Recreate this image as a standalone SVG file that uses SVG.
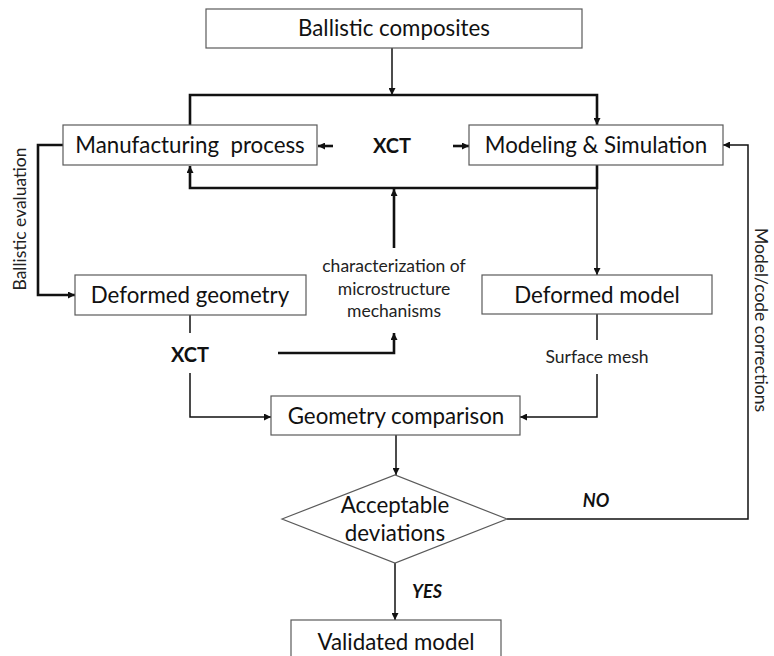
<svg xmlns="http://www.w3.org/2000/svg" width="774" height="656" viewBox="0 0 774 656">
<style>
.box{fill:#fff;stroke:#5a5a5a;stroke-width:1.2}
.t{font-family:Lato,"Open Sans",sans-serif;font-size:22.3px;fill:#111;text-anchor:middle}
.s{font-family:Lato,"Open Sans",sans-serif;font-size:17.5px;fill:#222;text-anchor:middle}
.b{font-family:Lato,"Open Sans",sans-serif;font-size:20px;font-weight:bold;fill:#111;text-anchor:middle}
.bi{font-family:Lato,"Open Sans",sans-serif;font-size:18px;font-weight:bold;font-style:italic;fill:#111;text-anchor:middle}
.thin{fill:none;stroke:#111;stroke-width:1.5}
.thick{fill:none;stroke:#111;stroke-width:2.6}
</style>
<defs>
<marker id="ah" viewBox="0 0 10 10" refX="10" refY="5" markerWidth="9" markerHeight="7" markerUnits="userSpaceOnUse" orient="auto">
<path d="M0,0 L10,5 L0,10 z" fill="#111"/>
</marker>
</defs>
<rect width="774" height="656" fill="#fff"/>
<g id="connectors">
<line class="thin" x1="392" y1="48" x2="392" y2="95" marker-end="url(#ah)"/>
<polyline class="thick" points="190,125 190,95 597,95 597,125" marker-end="url(#ah)"/>
<line class="thick" x1="333" y1="146" x2="318" y2="146" marker-end="url(#ah)"/>
<line class="thick" x1="453" y1="146" x2="469" y2="146" marker-end="url(#ah)"/>
<polyline class="thick" points="597,165 597,188 190,188 190,166" marker-end="url(#ah)"/>
<line class="thick" x1="394" y1="248" x2="394" y2="189" marker-end="url(#ah)"/>
<line class="thin" x1="597" y1="188" x2="597" y2="275" marker-end="url(#ah)"/>
<polyline class="thick" points="63,145 38,145 38,295 75,295" marker-end="url(#ah)"/>
<line class="thin" x1="190" y1="315" x2="190" y2="333"/>
<polyline class="thin" points="190,373 190,417 271,417" marker-end="url(#ah)"/>
<polyline class="thick" points="278,353 394,353 394,333" marker-end="url(#ah)"/>
<line class="thin" x1="597" y1="314" x2="597" y2="340"/>
<polyline class="thin" points="597,374 597,417 520,417" marker-end="url(#ah)"/>
<line class="thin" x1="396" y1="435" x2="396" y2="475" marker-end="url(#ah)"/>
<polyline class="thin" points="507,519 748,519 748,145 723,145" marker-end="url(#ah)"/>
<line class="thin" x1="395" y1="563" x2="395" y2="620" marker-end="url(#ah)"/>
</g>
<g id="ballistic-composites"><rect class="box" x="206" y="9" width="376" height="39"/><text class="t" x="394" y="36">Ballistic composites</text></g>
<g id="manufacturing"><rect class="box" x="63" y="125" width="254" height="40"/><text class="t" x="190" y="153" xml:space="preserve">Manufacturing  process</text></g>
<g id="xct-top"><text class="b" x="392" y="153">XCT</text></g>
<g id="modeling"><rect class="box" x="469" y="125" width="254" height="40"/><text class="t" x="596" y="153">Modeling &amp; Simulation</text></g>
<g id="deformed-geometry"><rect class="box" x="75" y="275" width="231" height="40"/><text class="t" x="190" y="303">Deformed geometry</text></g>
<g id="deformed-model"><rect class="box" x="482" y="275" width="230" height="39"/><text class="t" x="597" y="303">Deformed model</text></g>
<g id="characterization"><text class="s" x="394" y="272">characterization of</text><text class="s" x="394" y="295">microstructure</text><text class="s" x="394" y="317">mechanisms</text></g>
<g id="xct-bottom"><text class="b" x="190" y="362">XCT</text></g>
<g id="surface-mesh"><text class="s" x="597" y="363">Surface mesh</text></g>
<g id="ballistic-evaluation"><text class="s" transform="translate(26,219) rotate(-90)" x="0" y="0">Ballistic evaluation</text></g>
<g id="model-code"><text class="s" transform="translate(755,320) rotate(90)" x="0" y="0">Model/code corrections</text></g>
<g id="geometry-comparison"><rect class="box" x="271" y="396" width="249" height="39"/><text class="t" x="396" y="424">Geometry comparison</text></g>
<g id="acceptable"><polygon class="box" points="282,519 395,475 507,519 395,563"/><text class="t" x="395" y="513">Acceptable</text><text class="t" x="395" y="541">deviations</text></g>
<g id="no-label"><text class="bi" x="596" y="507">NO</text></g>
<g id="yes-label"><text class="bi" x="427" y="598">YES</text></g>
<g id="validated"><rect class="box" x="291" y="620" width="210" height="44"/><text class="t" x="396" y="650">Validated model</text></g>
</svg>
